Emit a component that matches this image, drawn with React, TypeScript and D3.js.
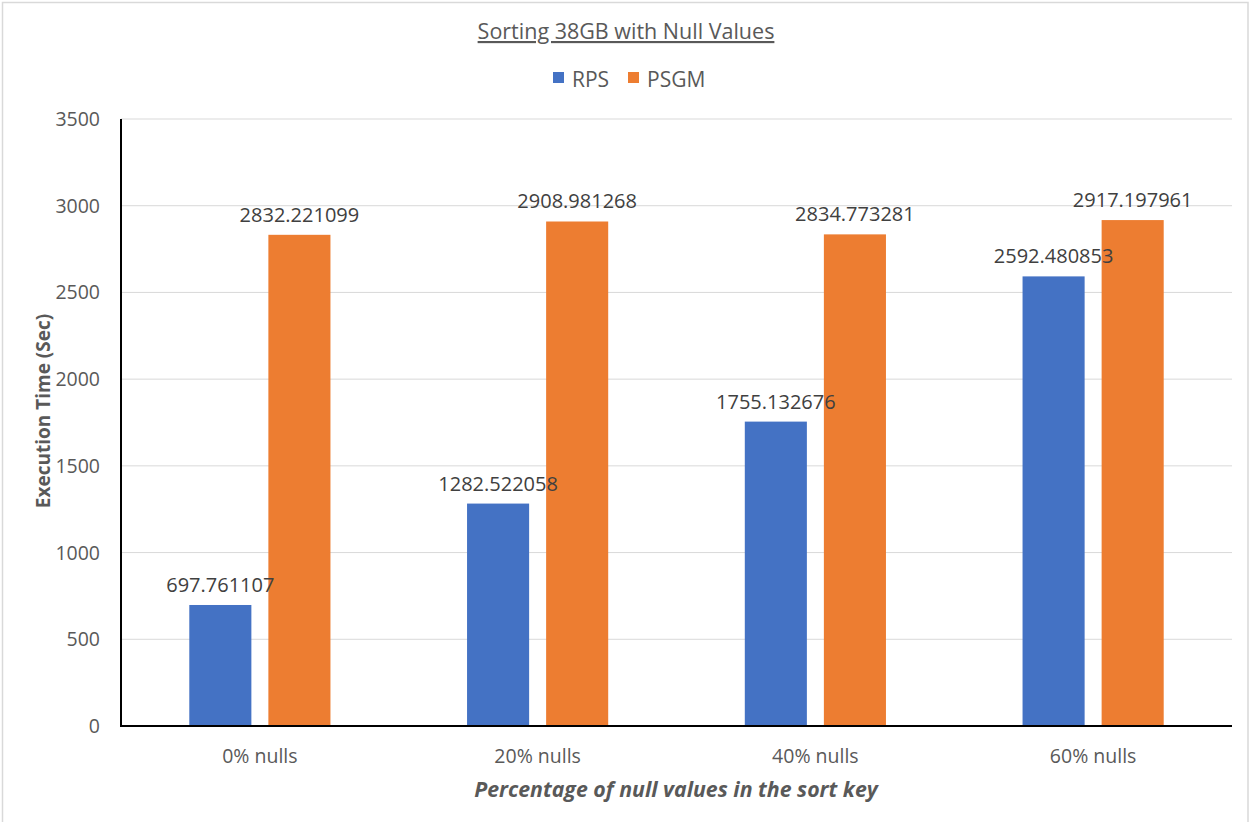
import React from "react";
import * as d3 from "d3";

const categories = ["0% nulls", "20% nulls", "40% nulls", "60% nulls"];
const seriesNames = ["RPS", "PSGM"];
const rpsValues = [697.761107, 1282.522058, 1755.132676, 2592.480853];
const psgmValues = [2832.221099, 2908.981268, 2834.773281, 2917.197961];
const yTicks = [0, 500, 1000, 1500, 2000, 2500, 3000, 3500];
const colors = ["#4472C4", "#ED7D31"];

const W = 1250;
const H = 822;
const plot = { left: 121, right: 1232, top: 119, bottom: 726 };
const FONT = "'Open Sans', 'Liberation Sans', sans-serif";
const TEXT = "#595959";

export default function App() {
  const x0 = d3
    .scaleBand<string>()
    .domain(categories)
    .range([plot.left, plot.right])
    .paddingInner(0.4918)
    .paddingOuter(0.2459);
  const x1 = d3
    .scaleBand<string>()
    .domain(seriesNames)
    .range([0, x0.bandwidth()])
    .paddingInner(0.215);
  const y = d3.scaleLinear().domain([0, 3500]).range([plot.bottom, plot.top]);

  const series = [rpsValues, psgmValues];
  const marks = categories.flatMap((c, ci) =>
    seriesNames.map((s, si) => ({
      key: `${c}-${s}`,
      v: series[si][ci],
      si,
      bx: (x0(c) as number) + (x1(s) as number),
    }))
  );

  return (
    <svg
      width={W}
      height={H}
      style={{ position: "absolute", left: 0, top: 0, background: "#fff" }}
      fontFamily={FONT}
    >
      <rect x={0} y={0} width={W} height={H} fill="#fff" />
      <rect x={2.5} y={2.5} width={1245.5} height={840} fill="none" stroke="#d9d9d9" strokeWidth={1.5} />

      {/* title */}
      <text x={626} y={39} textAnchor="middle" fontSize={21.5} fill={TEXT} textDecoration="underline">
        Sorting 38GB with Null Values
      </text>

      {/* legend */}
      {seriesNames.map((name, i) => {
        const lx = i === 0 ? 553 : 628;
        return (
          <g key={name}>
            <rect x={lx} y={72} width={11} height={11} fill={colors[i]} />
            <text x={lx + 19} y={87} fontSize={21} fill={TEXT}>
              {name}
            </text>
          </g>
        );
      })}

      {/* gridlines */}
      {yTicks.slice(1).map((t) => (
        <line key={t} x1={plot.left} x2={plot.right} y1={y(t)} y2={y(t)} stroke="#d9d9d9" strokeWidth={1} />
      ))}

      {/* y tick labels */}
      {yTicks.map((t) => (
        <text key={t} x={100} y={y(t) + 7} textAnchor="end" fontSize={19.5} fill={TEXT}>
          {t}
        </text>
      ))}

      {/* bars */}
      {marks.map((m) => (
        <rect
          key={m.key}
          x={m.bx}
          y={y(m.v)}
          width={x1.bandwidth()}
          height={y(0) - y(m.v)}
          fill={colors[m.si]}
        />
      ))}

      {/* value labels, on top of every bar */}
      {marks.map((m) => (
        <text
          key={`lbl-${m.key}`}
          x={m.bx + x1.bandwidth() / 2}
          y={y(m.v) - 13}
          textAnchor="middle"
          fontSize={20}
          fill="#404040"
        >
          {m.v}
        </text>
      ))}

      {/* axes */}
      <line x1={plot.left} x2={plot.left} y1={plot.top} y2={plot.bottom + 1} stroke="#000" strokeWidth={2} />
      <line x1={plot.left} x2={plot.right} y1={plot.bottom} y2={plot.bottom} stroke="#000" strokeWidth={2} />

      {/* x tick labels */}
      {categories.map((c) => (
        <text
          key={c}
          x={(x0(c) as number) + x0.bandwidth() / 2}
          y={763}
          textAnchor="middle"
          fontSize={19.5}
          fill={TEXT}
        >
          {c}
        </text>
      ))}

      {/* axis titles */}
      <text x={676} y={797} textAnchor="middle" fontSize={21.3} fontWeight="bold" fontStyle="italic" fill={TEXT}>
        Percentage of null values in the sort key
      </text>
      <text
        transform={`translate(50, 411) rotate(-90)`}
        textAnchor="middle"
        fontSize={19}
        fontWeight="bold"
        fill={TEXT}
      >
        Execution Time (Sec)
      </text>
    </svg>
  );
}
